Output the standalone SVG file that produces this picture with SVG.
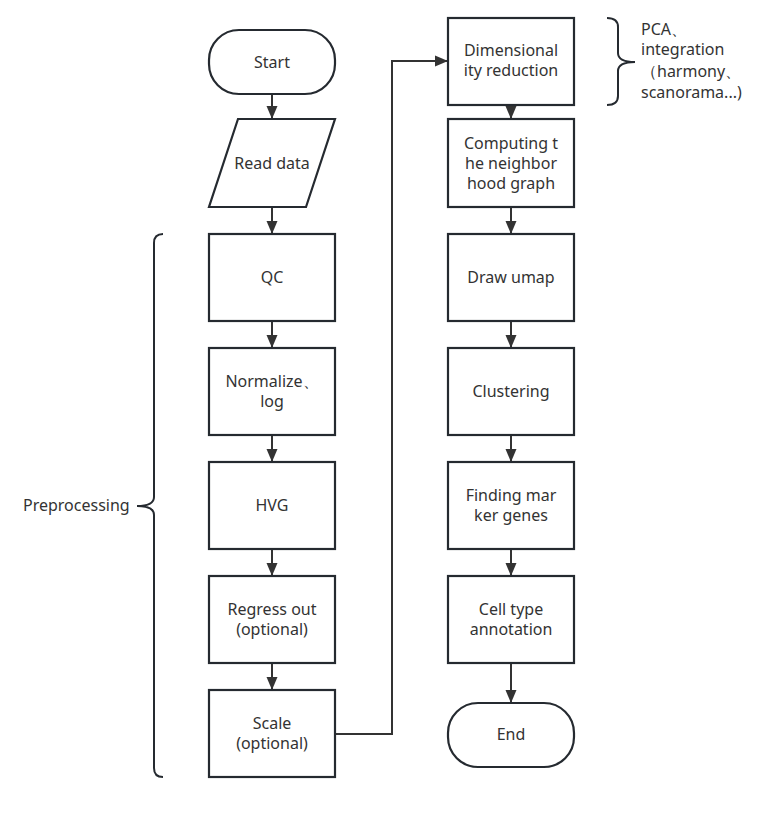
<svg xmlns="http://www.w3.org/2000/svg" width="761" height="814" viewBox="0 0 761 814">
<style>
.n{fill:#fff;stroke:#252a30;stroke-width:2.2}
.t{font-family:"Noto Sans","Open Sans","Liberation Sans",sans-serif;font-size:16px;fill:#333;text-anchor:middle}
.tl{font-family:"Noto Sans","Open Sans","Liberation Sans",sans-serif;font-size:16px;fill:#333}
.c{fill:none;stroke:#333;stroke-width:2}
.b{fill:none;stroke:#252a30;stroke-width:2}
</style>
<defs>
<marker id="a" markerUnits="userSpaceOnUse" markerWidth="13" markerHeight="14" viewBox="0 0 13 14" refX="13" refY="7" orient="auto">
<path d="M0,1.5 L13,7 L0,12.5 Z" fill="#333"/>
</marker>
</defs>
<rect width="761" height="814" fill="#fff"/>
<g id="connectors">
<line class="c" x1="272" y1="95" x2="272" y2="119" marker-end="url(#a)"/>
<line class="c" x1="272" y1="207" x2="272" y2="234" marker-end="url(#a)"/>
<line class="c" x1="272" y1="321" x2="272" y2="348" marker-end="url(#a)"/>
<line class="c" x1="272" y1="435" x2="272" y2="462" marker-end="url(#a)"/>
<line class="c" x1="272" y1="549" x2="272" y2="576" marker-end="url(#a)"/>
<line class="c" x1="272" y1="663" x2="272" y2="690" marker-end="url(#a)"/>
<polyline class="c" points="335,734 392,734 392,61 448,61" marker-end="url(#a)"/>
<line class="c" x1="511" y1="104" x2="511" y2="119" marker-end="url(#a)"/>
<line class="c" x1="511" y1="207" x2="511" y2="234" marker-end="url(#a)"/>
<line class="c" x1="511" y1="321" x2="511" y2="348" marker-end="url(#a)"/>
<line class="c" x1="511" y1="435" x2="511" y2="462" marker-end="url(#a)"/>
<line class="c" x1="511" y1="549" x2="511" y2="576" marker-end="url(#a)"/>
<line class="c" x1="511" y1="663" x2="511" y2="703" marker-end="url(#a)"/>
</g>
<g id="start"><rect class="n" x="209" y="30" width="126" height="64" rx="30"/><text class="t" x="272" y="68">Start</text></g>
<g id="read"><polygon class="n" points="238,119 335,119 306,207 209,207"/><text class="t" x="272" y="169">Read data</text></g>
<g id="qc"><rect class="n" x="209" y="234" width="126" height="87"/><text class="t" x="272" y="283">QC</text></g>
<g id="normalize"><rect class="n" x="209" y="348" width="126" height="87"/><text class="t" x="272" y="387">Normalize、</text><text class="t" x="272" y="407">log</text></g>
<g id="hvg"><rect class="n" x="209" y="462" width="126" height="87"/><text class="t" x="272" y="511">HVG</text></g>
<g id="regress"><rect class="n" x="209" y="576" width="126" height="87"/><text class="t" x="272" y="615">Regress out</text><text class="t" x="272" y="635">(optional)</text></g>
<g id="scale"><rect class="n" x="209" y="690" width="126" height="87"/><text class="t" x="272" y="729">Scale</text><text class="t" x="272" y="749">(optional)</text></g>
<g id="dimred"><rect class="n" x="448" y="18" width="126" height="87"/><text class="t" x="511" y="56">Dimensional</text><text class="t" x="511" y="76">ity reduction</text></g>
<g id="neighbor"><rect class="n" x="448" y="119" width="126" height="88"/><text class="t" x="511" y="149">Computing t</text><text class="t" x="511" y="169">he neighbor</text><text class="t" x="511" y="189">hood graph</text></g>
<g id="umap"><rect class="n" x="448" y="234" width="126" height="87"/><text class="t" x="511" y="283">Draw umap</text></g>
<g id="cluster"><rect class="n" x="448" y="348" width="126" height="87"/><text class="t" x="511" y="397">Clustering</text></g>
<g id="marker"><rect class="n" x="448" y="462" width="126" height="87"/><text class="t" x="511" y="501">Finding mar</text><text class="t" x="511" y="521">ker genes</text></g>
<g id="celltype"><rect class="n" x="448" y="576" width="126" height="87"/><text class="t" x="511" y="615">Cell type</text><text class="t" x="511" y="635">annotation</text></g>
<g id="end"><rect class="n" x="448" y="703" width="126" height="64" rx="30"/><text class="t" x="511" y="740">End</text></g>
<g id="prep-brace">
<path class="b" d="M163,234 Q154,234 154,243 L154,497 Q154,506 137,506 Q154,506 154,515 L154,768 Q154,777 163,777"/>
<text class="tl" x="23" y="511">Preprocessing</text>
</g>
<g id="dr-brace">
<path class="b" d="M607,18 Q618,18 618,27 L618,53 Q618,62 635,62 Q618,62 618,71 L618,96 Q618,105 607,105"/>
<text class="tl" x="641" y="35">PCA、</text>
<text class="tl" x="641" y="55">integration</text>
<text class="tl" x="641" y="77">（harmony、</text>
<text class="tl" x="641" y="98">scanorama...)</text>
</g>
</svg>
